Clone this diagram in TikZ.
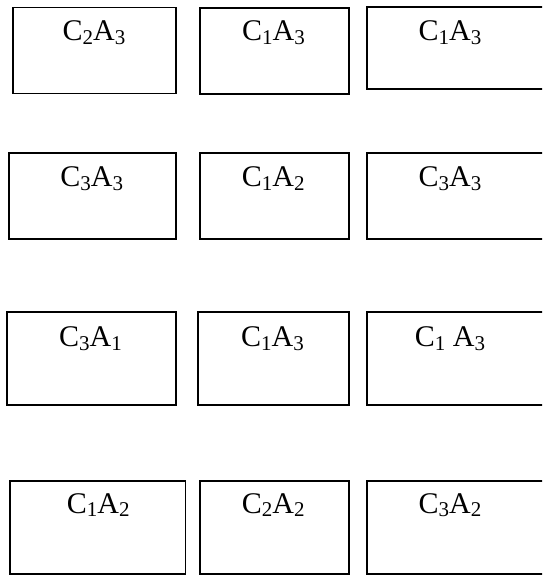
\documentclass[tikz,border=0pt]{standalone}
\usepackage{fontspec}
\setmainfont{Liberation Serif}
\newcommand\sbs[1]{\raisebox{-3.5pt}{\fontsize{21}{21}\selectfont #1}}
\begin{document}
\begin{tikzpicture}[x=1pt,y=-1pt,
  boxnode/.style={draw=black,line width=1.6pt,rectangle,inner sep=0pt,outer sep=0pt,anchor=north west},
  lbl/.style={anchor=base,inner sep=0pt,font=\fontsize{30}{36}\selectfont}]
\useasboundingbox (0,0) rectangle (542,577);
\clip (0,0) rectangle (542,577);
% row 1
\node[boxnode,minimum width=163pt,minimum height=86pt] (b11) at (12.7,7.7) {};
\node[boxnode,minimum width=149pt,minimum height=86pt] (b12) at (200,8) {};
\node[boxnode,minimum width=180pt,minimum height=81.7pt] (b13) at (367,7.3) {};
\node[lbl] (t11) at (94,41) {C\sbs{2}A\sbs{3}};
\node[lbl] (t12) at (273.5,41) {C\sbs{1}A\sbs{3}};
\node[lbl] (t13) at (450,41) {C\sbs{1}A\sbs{3}};
% row 2
\node[boxnode,minimum width=167pt,minimum height=85.7pt] (b21) at (9,153.3) {};
\node[boxnode,minimum width=149pt,minimum height=85.7pt] (b22) at (200,153.3) {};
\node[boxnode,minimum width=180pt,minimum height=85.7pt] (b23) at (367,153.3) {};
\node[lbl] (t21) at (91.7,186.7) {C\sbs{3}A\sbs{3}};
\node[lbl] (t22) at (273.3,186.7) {C\sbs{1}A\sbs{2}};
\node[lbl] (t23) at (450,186.7) {C\sbs{3}A\sbs{3}};
% row 3
\node[boxnode,minimum width=169pt,minimum height=93.3pt] (b31) at (7,311.7) {};
\node[boxnode,minimum width=151pt,minimum height=93.3pt] (b32) at (198,311.7) {};
\node[boxnode,minimum width=180pt,minimum height=93.3pt] (b33) at (367,311.7) {};
\node[lbl] (t31) at (90.5,346.7) {C\sbs{3}A\sbs{1}};
\node[lbl] (t32) at (272.5,346.7) {C\sbs{1}A\sbs{3}};
\node[lbl] (t33) at (450,346.7) {C\sbs{1} A\sbs{3}};
% row 4
\node[boxnode,minimum width=175.5pt,minimum height=93.3pt] (b41) at (10,480.7) {};
\node[boxnode,minimum width=149pt,minimum height=93.3pt] (b42) at (200,480.7) {};
\node[boxnode,minimum width=180pt,minimum height=93.3pt] (b43) at (367,480.7) {};
\node[lbl] (t41) at (98.3,513.3) {C\sbs{1}A\sbs{2}};
\node[lbl] (t42) at (273.3,513.3) {C\sbs{2}A\sbs{2}};
\node[lbl] (t43) at (450,513.3) {C\sbs{3}A\sbs{2}};
\end{tikzpicture}
\end{document}
